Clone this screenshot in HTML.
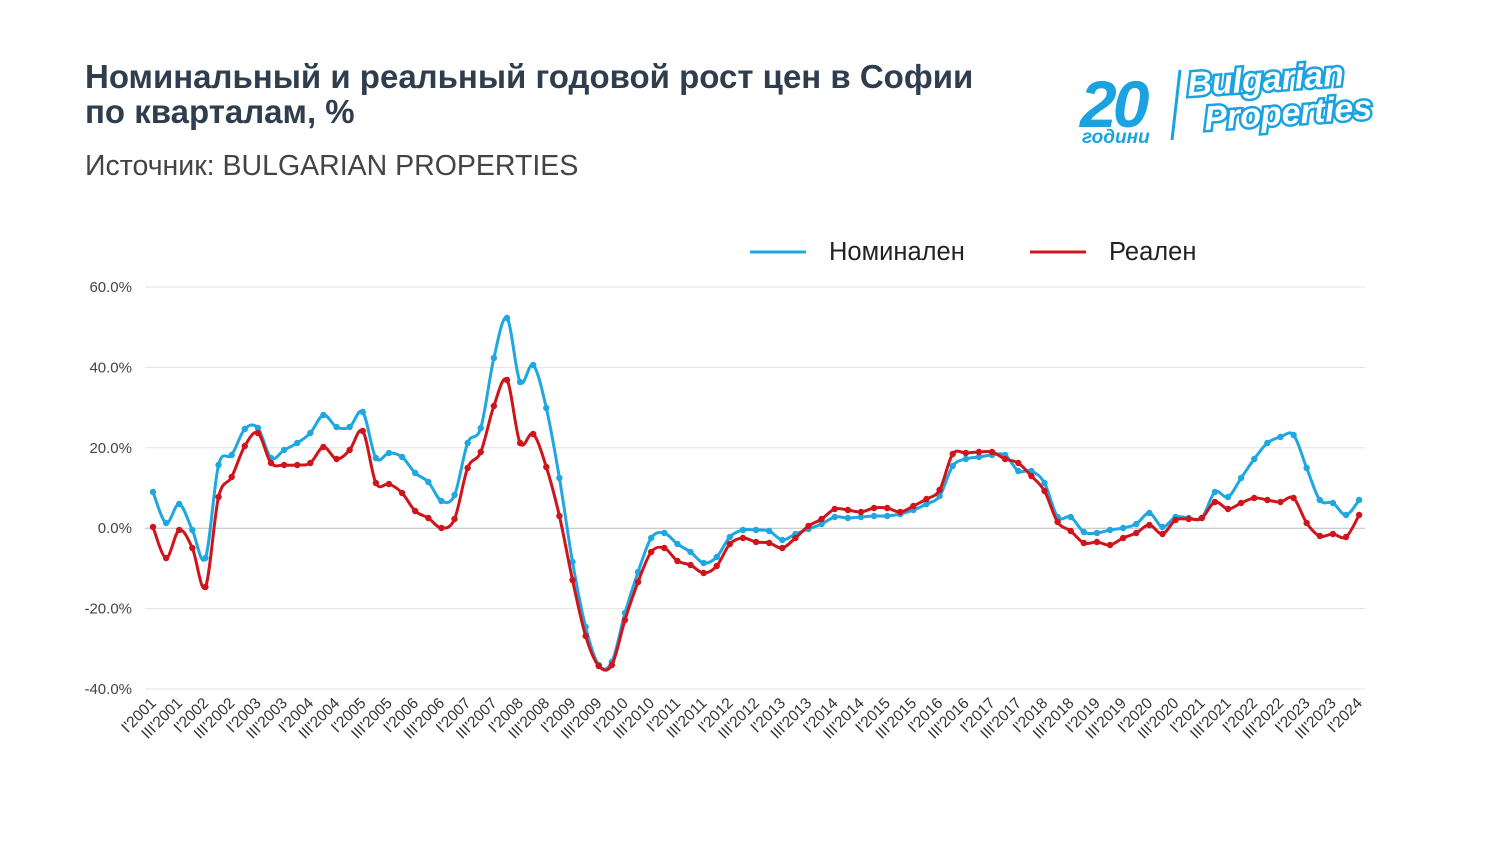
<!DOCTYPE html>
<html><head><meta charset="utf-8"><style>
body{margin:0;width:1500px;height:844px;background:#fff;overflow:hidden;font-family:"Liberation Sans",sans-serif}
</style></head><body>
<svg id="s" width="1500" height="844" xmlns="http://www.w3.org/2000/svg" font-family="Liberation Sans, sans-serif">
<text x="85" y="88" font-size="33" font-weight="bold" fill="#2f3e4e">Номинальный и реальный годовой рост цен в Софии</text>
<text x="85" y="123" font-size="33" font-weight="bold" fill="#2f3e4e">по кварталам, %</text>
<text x="85" y="175" font-size="28.5" fill="#444">Источник: BULGARIAN PROPERTIES</text>
<g font-style="italic" font-weight="bold">
<text x="1080" y="127" font-size="66" fill="#1aa3e0" letter-spacing="-4">20</text>
<text x="1082" y="143" font-size="19" fill="#1aa3e0">години</text>
<line x1="1180" y1="70" x2="1172" y2="140" stroke="#1aa3e0" stroke-width="3"/>
<text x="1188" y="96" font-size="34" fill="#fff" stroke="#1aa3e0" stroke-width="5" paint-order="stroke" transform="rotate(-4 1188 96)">Bulgarian</text>
<text x="1205" y="130" font-size="34" fill="#fff" stroke="#1aa3e0" stroke-width="5" paint-order="stroke" transform="rotate(-4 1205 130)">Properties</text>
</g>
<line x1="750" y1="252" x2="806" y2="252" stroke="#1ea7e1" stroke-width="3"/>
<text x="829" y="260" font-size="25.5" fill="#222">Номинален</text>
<line x1="1030" y1="252" x2="1086" y2="252" stroke="#d0141c" stroke-width="3"/>
<text x="1109" y="260" font-size="25.5" fill="#222">Реален</text>
<g id="grid"></g>
<g id="plot"></g>
<g id="xl" font-size="15.5" fill="#333"></g>
</svg>
<script>
var B=[492,523,504,530,558,465,455,429,428,458,450,443,433,415,427,427,412,458,453,457,473,482,501,495,443,428,358,318,382,365,408,478,562,627,665,662,613,572,538,533,544,552,563,557,537,530,530,531,540,534,529,524,517,518,517,516,516,514,510,504,496,466,459,457,455,455,471,471,483,517,517,532,533,530,528,524,513,527,517,518,518,492,497,478,459,443,437,435,468,500,503,515,500];
var R=[527,558,530,548,587,497,477,446,433,463,465,465,463,447,459,450,431,483,484,493,511,518,528,519,468,452,406,380,443,434,467,516,580,636,666,665,620,582,552,548,561,565,573,566,544,538,542,543,548,538,526,519,509,510,512,508,508,512,506,499,490,454,453,452,452,459,463,476,491,522,531,543,542,545,538,533,525,534,520,519,518,502,509,503,498,500,502,498,523,536,534,537,515];
var NS="http://www.w3.org/2000/svg";
function el(t,a,p){var e=document.createElementNS(NS,t);for(var k in a)e.setAttribute(k,a[k]);p.appendChild(e);return e;}
var g=document.getElementById("grid"),pl=document.getElementById("plot"),xl=document.getElementById("xl");
var labs=["60.0%","40.0%","20.0%","0.0%","-20.0%","-40.0%"];
for(var i=0;i<6;i++){var y=287+i*80.4;el("line",{x1:145,x2:1365,y1:y,y2:y,stroke:i==3?"#bbb":"#e3e3e3","stroke-width":1},g);
var t=el("text",{x:132,y:y+5,"font-size":15,fill:"#444","text-anchor":"end"},g);t.textContent=labs[i];}
function X(i){return 153+i*13.11;}
function path(d){var s="M"+X(0)+","+d[0];for(var i=0;i<d.length-1;i++){var p0=i?i-1:i,p3=i+2<d.length?i+2:i+1;
var c1x=X(i)+(X(i+1)-X(p0))/6,c1y=d[i]+(d[i+1]-d[p0])/6,c2x=X(i+1)-(X(p3)-X(i))/6,c2y=d[i+1]-(d[p3]-d[i])/6;
s+=" C"+c1x+","+c1y+" "+c2x+","+c2y+" "+X(i+1)+","+d[i+1];}return s;}
[[B,"#1ea7e1"],[R,"#d0141c"]].forEach(function(q){el("path",{d:path(q[0]),fill:"none",stroke:q[1],"stroke-width":3},pl);
q[0].forEach(function(v,i){el("circle",{cx:X(i),cy:v,r:3.2,fill:q[1]},pl);});});
for(var i=0;i<=92;i+=2){var yr=2001+Math.floor(i/4),q=(i%4==0)?"I'":"III'";var x=X(i)+4,y=704;
var t=el("text",{x:x,y:y,"text-anchor":"end",transform:"rotate(-45 "+x+" "+y+")"},xl);t.textContent=q+yr;}
</script>
</body></html>
